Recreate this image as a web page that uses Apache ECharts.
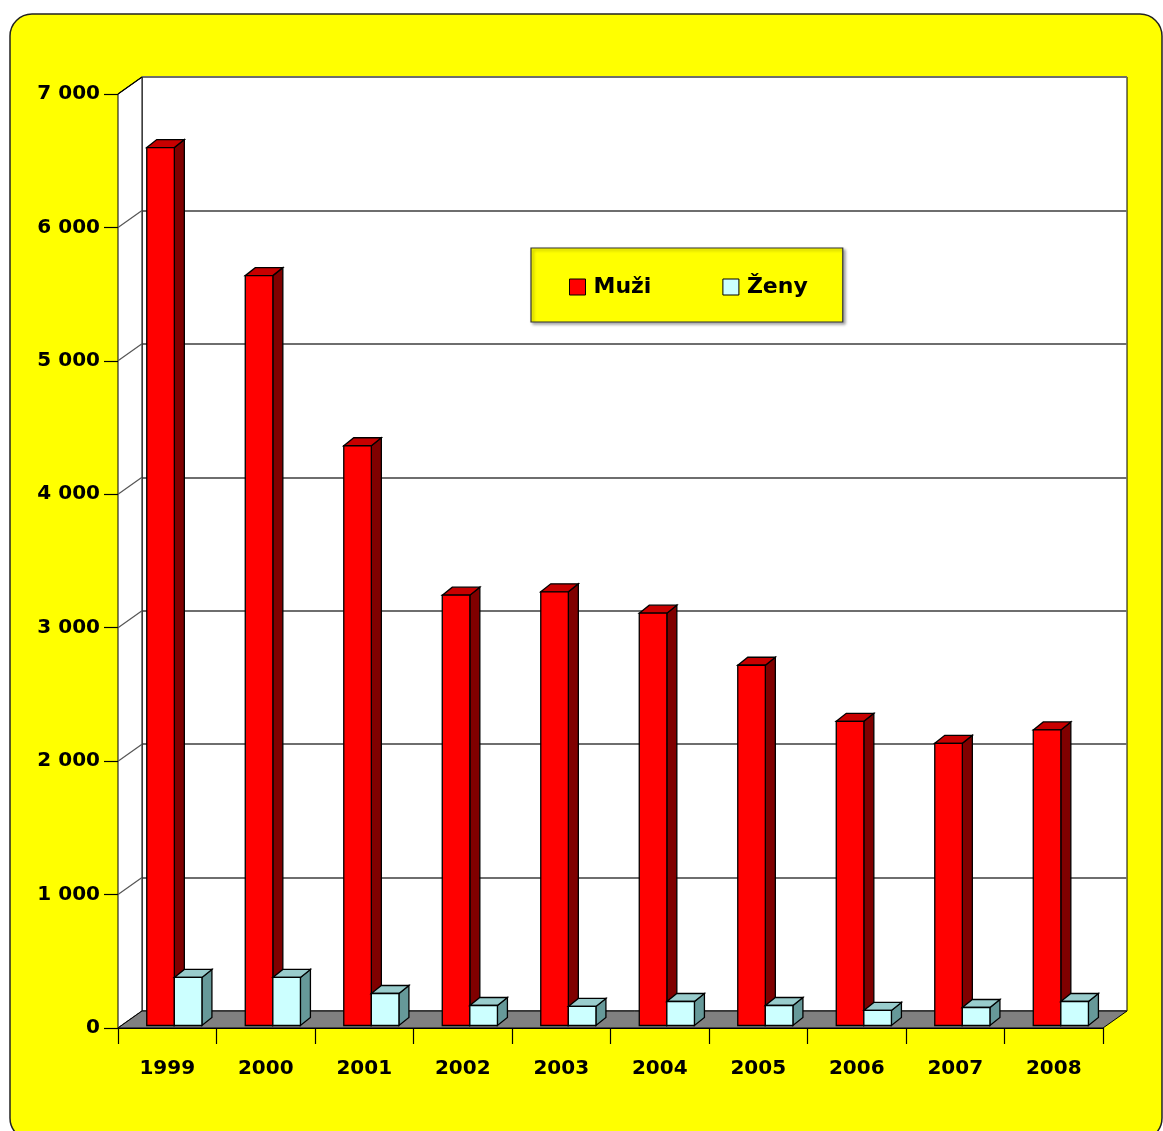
<!DOCTYPE html>
<html>
<head>
<meta charset="utf-8">
<script src="https://cdn.jsdelivr.net/npm/echarts@6/dist/echarts.min.js"></script>
<style>
html,body{margin:0;padding:0;background:#fff;}
#chart{width:1163px;height:1131px;}
</style>
</head>
<body>
<div id="chart"></div>
<script>
const years = ['1999','2000','2001','2002','2003','2004','2005','2006','2007','2008'];
const muzi = [6580, 5620, 4345, 3225, 3250, 3090, 2700, 2280, 2115, 2215];
const zeny = [360, 360, 240, 150, 143, 180, 150, 113, 135, 180];
const yTicks = [0, 1000, 2000, 3000, 4000, 5000, 6000, 7000];

const FONT = 'DejaVu Sans';
const DEPTH_X = 24, DEPTH_Y = -17;   // back wall offset
const BAR_DX = 10, BAR_DY = -8;      // bar depth
const BAR_SHIFT_X = 0, BAR_SHIFT_Y = -2.5;

function barRenderer(slot, cFront, cSide, cTop) {
  return function (params, api) {
    const i = api.value(0), v = api.value(1);
    const bw = api.size([1, 0])[0];
    const top = api.coord([i, v]);
    const base = api.coord([i, 0]);
    const w = 0.28 * bw;
    const x0 = top[0] - 0.208 * bw + slot * w + BAR_SHIFT_X;
    const x1 = x0 + w;
    const yt = top[1] + BAR_SHIFT_Y;
    const yb = base[1] + BAR_SHIFT_Y;
    const st = { stroke: '#000', lineWidth: 1.3 };
    return {
      type: 'group',
      children: [
        { type: 'polygon', shape: { points: [[x1, yt], [x1 + BAR_DX, yt + BAR_DY], [x1 + BAR_DX, yb + BAR_DY], [x1, yb]] },
          style: Object.assign({ fill: cSide }, st) },
        { type: 'polygon', shape: { points: [[x0, yt], [x0 + BAR_DX, yt + BAR_DY], [x1 + BAR_DX, yt + BAR_DY], [x1, yt]] },
          style: Object.assign({ fill: cTop }, st) },
        { type: 'rect', shape: { x: x0, y: yt, width: w, height: yb - yt },
          style: Object.assign({ fill: cFront }, st) }
      ]
    };
  };
}

function decoRenderer(params, api) {
  const cs = params.coordSys;
  const L = cs.x, T = cs.y, R = cs.x + cs.width, B = cs.y + cs.height;
  const children = [];
  children.push({ type: 'polygon', shape: { points: [[L, T], [L + DEPTH_X, T + DEPTH_Y], [L + DEPTH_X, B + DEPTH_Y], [L, B]] },
    style: { fill: '#fff', stroke: '#000', lineWidth: 1 } });
  yTicks.forEach(function (t) {
    const y = api.coord([0, t])[1];
    children.push({ type: 'line', shape: { x1: L, y1: y, x2: L + DEPTH_X, y2: y + DEPTH_Y },
      style: { stroke: (t === 7000 ? '#000' : '#555'), lineWidth: 1.2 } });
  });
  children.push({ type: 'polygon', shape: { points: [[L, B], [R, B], [R + DEPTH_X, B + DEPTH_Y], [L + DEPTH_X, B + DEPTH_Y]] },
    style: { fill: '#808080', stroke: '#000', lineWidth: 1 } });
  return { type: 'group', children: children };
}

const chart = echarts.init(document.getElementById('chart'));
chart.setOption({
  animation: false,
  backgroundColor: '#fff',
  graphic: [{
    type: 'rect', z: -100, silent: true,
    shape: { x: 10, y: 14, width: 1152, height: 1126, r: 22 },
    style: { fill: '#ffff00', stroke: '#222', lineWidth: 1.5 }
  }],
  legend: {
    left: 531, top: 248,
    orient: 'horizontal',
    padding: [28, 35, 24, 38],
    itemWidth: 16, itemHeight: 16, itemGap: 71,
    icon: 'rect',
    backgroundColor: '#ffff00',
    borderColor: '#333', borderWidth: 1.2,
    shadowColor: 'rgba(0,0,0,0.35)', shadowBlur: 3, shadowOffsetX: 2, shadowOffsetY: 2,
    textStyle: { fontFamily: FONT, fontWeight: 'bold', fontSize: 22, color: '#000', padding: [0, 0, 0, 3] },
    data: [
      { name: 'Muži', itemStyle: { color: '#ff0000', borderColor: '#000', borderWidth: 1 } },
      { name: 'Ženy', itemStyle: { color: '#ccffff', borderColor: '#000', borderWidth: 1 } }
    ]
  },
  grid: [
    { left: 118, top: 94, right: 60, bottom: 103, show: false },
    { left: 142, top: 77, right: 36, bottom: 120, show: true, backgroundColor: '#fff', borderColor: '#000', borderWidth: 1 }
  ],
  xAxis: [
    { type: 'category', gridIndex: 0, data: years, boundaryGap: true,
      axisLine: { show: true, lineStyle: { color: '#000', width: 1 } },
      axisTick: { show: true, interval: 0, length: 16, lineStyle: { color: '#000', width: 1.2 } },
      axisLabel: { interval: 0, margin: 31, color: '#000', fontFamily: FONT, fontWeight: 'bold', fontSize: 20 } },
    { type: 'category', gridIndex: 1, data: years, show: false }
  ],
  yAxis: [
    { type: 'value', gridIndex: 0, min: 0, max: 7000, interval: 1000,
      axisLine: { show: true, lineStyle: { color: '#000', width: 1 } },
      axisTick: { show: true, length: 14, lineStyle: { color: '#000', width: 1.2 } },
      splitLine: { show: false },
      axisLabel: { margin: 18, color: '#000', fontFamily: FONT, fontWeight: 'bold', fontSize: 20,
        formatter: function (v) { return String(v).replace(/\B(?=(\d{3})+(?!\d))/g, ' '); } } },
    { type: 'value', gridIndex: 1, min: 0, max: 7000, interval: 1000,
      axisLine: { show: false }, axisTick: { show: false }, axisLabel: { show: false },
      splitLine: { show: true, lineStyle: { color: '#6e6e6e', width: 2 } } }
  ],
  series: [
    { type: 'custom', name: 'deco', xAxisIndex: 0, yAxisIndex: 0, z: 1, silent: true, clip: false,
      data: [[0, 0]], renderItem: decoRenderer },
    { type: 'custom', name: 'Muži', xAxisIndex: 0, yAxisIndex: 0, z: 2, clip: false,
      itemStyle: { color: '#ff0000' },
      data: muzi.map(function (v, i) { return [i, v]; }),
      renderItem: barRenderer(0, '#ff0000', '#800000', '#c80000') },
    { type: 'custom', name: 'Ženy', xAxisIndex: 0, yAxisIndex: 0, z: 2, clip: false,
      itemStyle: { color: '#ccffff' },
      data: zeny.map(function (v, i) { return [i, v]; }),
      renderItem: barRenderer(1, '#ccffff', '#669999', '#99cccc') }
  ]
});
</script>
</body>
</html>
